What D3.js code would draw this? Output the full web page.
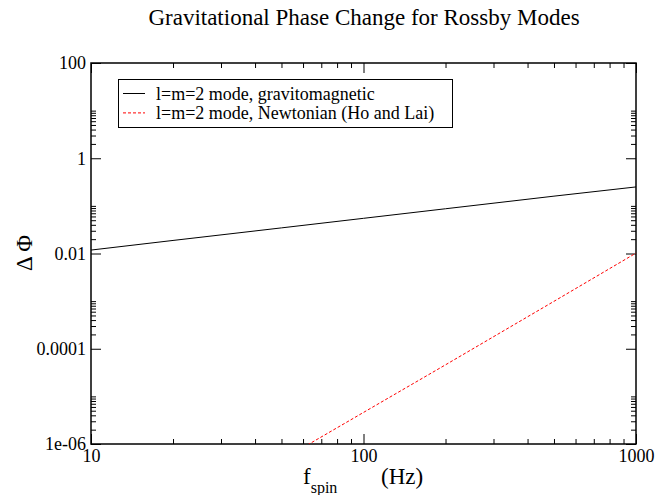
<!DOCTYPE html>
<html>
<head>
<meta charset="utf-8">
<script src="https://cdn.jsdelivr.net/npm/d3@7"></script>
<style>
  body { margin: 0; background: #fff; }
  svg text { font-family: "Liberation Serif", "Times New Roman", Times, "DejaVu Serif", serif; fill: #000; }
</style>
</head>
<body>
<script>
// size of the page
var width = 668;
var height = 495;
var serif = "'Liberation Serif', 'Times New Roman', Times, 'DejaVu Serif', serif";

// data
var gmFreq = [10, 20, 50, 100, 200, 500, 1000];
var gmPhase = [0.0118, 0.0188, 0.0345, 0.0548, 0.087, 0.160, 0.25];

var newtFreq = [50, 100, 200, 500, 1000];
var newtPhase = [4.6e-7, 4.6e-6, 4.6e-5, 9.9e-4, 0.0102];

var seriesNames = ["l=m=2 mode, gravitomagnetic", "l=m=2 mode, Newtonian (Ho and Lai)"];

var xMajor = [10, 100, 1000];
var yMajor = [1e-6, 1e-4, 1e-2, 1, 100];
var yLabels = ["1e-06", "0.0001", "0.01", "1", "100"];

var margin = {left: 91, right: 32, top: 63, bottom: 51};

var x = d3.scaleLog()
  .domain([10, 1000])
  .range([margin.left, width - margin.right]);

var y = d3.scaleLog()
  .domain([1e-6, 100])
  .range([height - margin.bottom, margin.top]);

// minor ticks
var xMinor = [];
[10, 100].forEach(m => { for (var k = 2; k <= 9; k++) xMinor.push(k * m); });
var yMinor = [];
[1e-6, 1e-4, 1e-2, 1].forEach(m => { for (var k = 2; k <= 10; k++) yMinor.push(k * m); });

var svg = d3.select("body")
  .append("svg")
  .attr("width", width)
  .attr("height", height);

svg.append("defs").append("clipPath")
  .attr("id", "clip")
  .append("rect")
  .attr("x", x.range()[0])
  .attr("y", y.range()[1])
  .attr("width", x.range()[1] - x.range()[0])
  .attr("height", y.range()[0] - y.range()[1]);

// title
svg.append("text")
  .attr("x", 364)
  .attr("y", 25)
  .attr("text-anchor", "middle")
  .style("font-family", serif)
  .style("font-size", "23px")
  .text("Gravitational Phase Change for Rossby Modes");

// axes, ticks inward on all four sides
svg.append("g").attr("transform", "translate(0," + y.range()[0] + ")")
  .call(d3.axisBottom(x).tickValues(xMajor).tickSizeInner(-10).tickSizeOuter(0).tickPadding(5).tickFormat(d3.format("d")));
svg.append("g").attr("transform", "translate(0," + y.range()[1] + ")")
  .call(d3.axisTop(x).tickValues(xMajor).tickSizeInner(-10).tickSizeOuter(0).tickFormat(""));
svg.append("g").attr("transform", "translate(" + x.range()[0] + ",0)")
  .call(d3.axisLeft(y).tickValues(yMajor).tickSizeInner(-10).tickSizeOuter(0).tickPadding(5).tickFormat((d, i) => yLabels[i]));
svg.append("g").attr("transform", "translate(" + x.range()[1] + ",0)")
  .call(d3.axisRight(y).tickValues(yMajor).tickSizeInner(-10).tickSizeOuter(0).tickFormat(""));

svg.append("g").attr("transform", "translate(0," + y.range()[0] + ")")
  .call(d3.axisBottom(x).tickValues(xMinor).tickSizeInner(-5).tickSizeOuter(0).tickFormat(""));
svg.append("g").attr("transform", "translate(0," + y.range()[1] + ")")
  .call(d3.axisTop(x).tickValues(xMinor).tickSizeInner(-5).tickSizeOuter(0).tickFormat(""));
svg.append("g").attr("transform", "translate(" + x.range()[0] + ",0)")
  .call(d3.axisLeft(y).tickValues(yMinor).tickSizeInner(-5).tickSizeOuter(0).tickFormat(""));
svg.append("g").attr("transform", "translate(" + x.range()[1] + ",0)")
  .call(d3.axisRight(y).tickValues(yMinor).tickSizeInner(-5).tickSizeOuter(0).tickFormat(""));

svg.selectAll(".domain").remove();
svg.selectAll("g").attr("font-family", null);
svg.selectAll(".tick line").attr("stroke", "#000").attr("stroke-width", 1);
svg.selectAll(".tick text")
  .style("font-family", serif)
  .style("font-size", "18px")
  .attr("fill", "#000");

// frame
svg.append("rect")
  .attr("x", x.range()[0])
  .attr("y", y.range()[1])
  .attr("width", x.range()[1] - x.range()[0])
  .attr("height", y.range()[0] - y.range()[1])
  .attr("fill", "none")
  .attr("stroke", "#000")
  .attr("stroke-width", 1.5);

// lines
var line = d3.line().x(d => x(d[0])).y(d => y(d[1]));

svg.append("path")
  .datum(d3.zip(gmFreq, gmPhase))
  .attr("clip-path", "url(#clip)")
  .attr("fill", "none")
  .attr("stroke", "#000")
  .attr("stroke-width", 1)
  .attr("d", line);

svg.append("path")
  .datum(d3.zip(newtFreq, newtPhase))
  .attr("clip-path", "url(#clip)")
  .attr("fill", "none")
  .attr("stroke", "#ff0000")
  .attr("stroke-width", 1)
  .attr("stroke-dasharray", "3,2")
  .attr("d", line);

// legend
var legend = svg.append("g");
legend.append("rect")
  .attr("x", 118.5).attr("y", 79.5)
  .attr("width", 334).attr("height", 48)
  .attr("fill", "#fff").attr("stroke", "#000").attr("stroke-width", 1);

var legColors = ["#000", "#ff0000"];
var legDash = [null, "3,2"];
seriesNames.forEach((name, i) => {
  var yy = 93.5 + i * 19.4;
  legend.append("line")
    .attr("x1", 123).attr("x2", 145)
    .attr("y1", yy).attr("y2", yy)
    .attr("stroke", legColors[i])
    .attr("stroke-dasharray", legDash[i]);
  legend.append("text")
    .attr("x", 156)
    .attr("y", yy + 6)
    .style("font-family", serif)
    .style("font-size", "18px")
    .text(name);
});

// axis labels
svg.append("text")
  .attr("transform", "translate(32,253) rotate(-90)")
  .attr("text-anchor", "middle")
  .style("font-family", serif)
  .style("font-size", "23px")
  .text("\u0394 \u03A6");

var xl = svg.append("text")
  .attr("x", 303)
  .attr("y", 484)
  .style("font-family", serif)
  .style("font-size", "23px");
xl.append("tspan").text("f");
xl.append("tspan").attr("dy", 9).style("font-size", "16px").text("spin");
xl.append("tspan").attr("x", 381).attr("dy", -9).text("(Hz)");
</script>
</body>
</html>
